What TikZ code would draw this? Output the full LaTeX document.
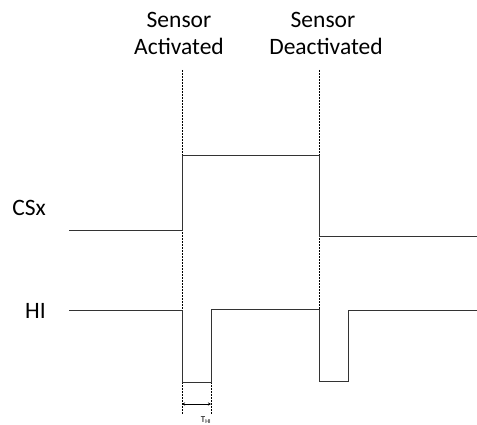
\documentclass[tikz,border=0pt]{standalone}
\usepackage{fontspec}
\setmainfont{Carlito}
\usetikzlibrary{arrows.meta}
\tikzset{
  signal/.style={line width=1pt, black!80},
  marker/.style={line width=1pt, dash pattern=on 2pt off 1pt},
  label/.style={font=\fontsize{23.5}{28}\selectfont, anchor=base, inner sep=0pt}
}
\begin{document}
\begin{tikzpicture}[x=1pt,y=-1pt]
				\useasboundingbox (0,0) rectangle (477,425);
				
				% event markers
				\draw[marker] (182,70) -- (182,414);
				\draw[marker] (211,382) -- (211,414);
				\draw[marker] (319,70) -- (319,309);
				
				\node[label] (act1) at (179,28) {Sensor};
				\node[label] (act2) at (179,55) {Activated};
				\node[label] (deact1) at (323,28) {Sensor};
				\node[label] (deact2) at (326,55) {Deactivated};
				
				% CSx
				\node[label, anchor=base east] (csx) at (46,215) {CSx};
				\draw[signal] (69,231) -- (182,231) -- (182,156) -- (319,156) -- (319,236) -- (477,236);
				
				% HI
				\node[label, anchor=base east] (hi) at (46,318) {HI};
				\draw[signal] (69,310) -- (182,310) -- (182,382) -- (211,382) -- (211,309) -- (319,309)
					-- (319,381) -- (348,381) -- (348,310) -- (477,310);
				
				% pulse width
				\draw[line width=0.9pt, {Stealth[length=3pt,width=3pt]}-{Stealth[length=3pt,width=3pt]}] (182,404) -- (211,404);
				\node[font=\fontsize{9}{10}\selectfont, inner sep=0pt] (thi) at (206,420) {T\textsubscript{HI}};
			\end{tikzpicture}
\end{document}
